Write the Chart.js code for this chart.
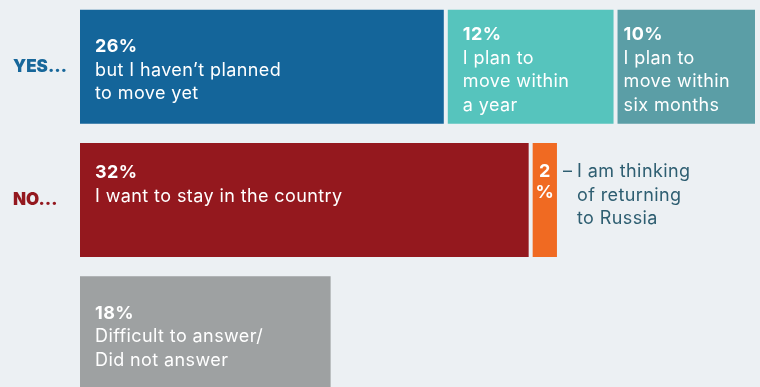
<!DOCTYPE html>
<html>
<head>
<meta charset="utf-8">
<script src="https://cdn.jsdelivr.net/npm/chart.js@4"></script>
<style>
  html, body { margin: 0; padding: 0; background: #ecf0f3; overflow: hidden; }
  canvas { display: block; }
</style>
</head>
<body>
<canvas id="moves" width="760" height="400"></canvas>
<script>
var rows = ["YES…", "NO…", ""]
var rowColors = ["#17679a", "#94181e", "#94181e"]

// one dataset per answer, each sits in a single row
var answers = [
  {label: "but I haven’t planned to move yet", row: 0, value: 26, color: "#14659a", lines: ["but I haven’t planned", "to move yet"]},
  {label: "I plan to move within a year", row: 0, value: 12, color: "#56c4bd", lines: ["I plan to", "move within", "a year"]},
  {label: "I plan to move within six months", row: 0, value: 10, color: "#5b9ea6", lines: ["I plan to", "move within", "six months"]},
  {label: "I want to stay in the country", row: 1, value: 32, color: "#94181e", lines: ["I want to stay in the country"]},
  {label: "I am thinking of returning to Russia", row: 1, value: 2, color: "#f06a22", lines: []},
  {label: "Difficult to answer/Did not answer", row: 2, value: 18, color: "#9ea1a2", lines: ["Difficult to answer/", "Did not answer"]}
]
var returnNote = ["I am thinking", "of returning", "to Russia"]

// left inset of the text inside each segment
var inset = [17, 17, 8, 17, 0, 17]

var bg = "#ecf0f3"
var font = "Inter, 'Noto Sans', sans-serif"
var lh = 23.5

var segLabels = {
  id: "segLabels",
  afterDatasetsDraw(chart) {
    var ctx = chart.ctx
    ctx.save()
    ctx.textBaseline = "middle"
    ctx.letterSpacing = "0.4px"
    answers.forEach((a, i) => {
      var bar = chart.getDatasetMeta(i).data[a.row]
      var top = bar.y - bar.height / 2
      var left = bar.base
      ctx.fillStyle = "#fff"
      if (a.lines.length == 0) {
        // narrow bar: stack the number and the sign
        ctx.textAlign = "center"
        ctx.font = "bold 18px " + font
        ctx.fillText(a.value, (bar.x + bar.base) / 2, top + 31)
        ctx.fillText("%", (bar.x + bar.base) / 2, top + 52)
        ctx.textAlign = "left"
        ctx.fillStyle = "#2e5e71"
        ctx.font = "18px " + font
        ctx.fillText("–", bar.x + 4, top + 31)
        returnNote.forEach((t, k) => {
          ctx.fillText(t, bar.x + 18, top + 31 + k * lh)
        })
        return
      }
      var n = a.lines.length + 1
      // short blocks hang from the top, taller ones are centred
      var y0 = n <= 2 ? top + 32 : bar.y + 3.5 - (n - 1) * lh / 2
      ctx.textAlign = "left"
      ctx.font = "bold 18px " + font
      ctx.fillText(a.value + "%", left + inset[i], y0)
      ctx.font = "18px " + font
      a.lines.forEach((t, k) => {
        ctx.fillText(t, left + inset[i], y0 + (k + 1) * lh)
      })
    })
    ctx.restore()
  }
}

new Chart("moves", {
  type: "bar",
  data: {
    labels: rows,
    datasets: answers.map(a => ({
      label: a.label,
      data: rows.map((r, i) => i == a.row ? a.value : null),
      backgroundColor: a.color,
      borderColor: bg,
      borderWidth: 2,
      borderSkipped: false,
      categoryPercentage: 1,
      barPercentage: 0.885
    }))
  },
  options: {
    indexAxis: "y",
    responsive: false,
    animation: false,
    layout: {padding: {top: 0, right: 3, bottom: 0, left: 13}},
    plugins: {legend: {display: false}, tooltip: {enabled: false}},
    scales: {
      x: {stacked: true, min: 0, max: 48, display: false},
      y: {
        stacked: true,
        grid: {display: false},
        border: {display: false},
        afterFit(scale) {
          scale.width = 65
          scale.paddingTop = 0
          scale.paddingBottom = 0
        },
        ticks: {
          crossAlign: "far",
          padding: 0,
          color: ctx => rowColors[ctx.index],
          font: {family: font, size: 17, weight: "900"}
        }
      }
    }
  },
  plugins: [segLabels]
})
</script>
</body>
</html>
